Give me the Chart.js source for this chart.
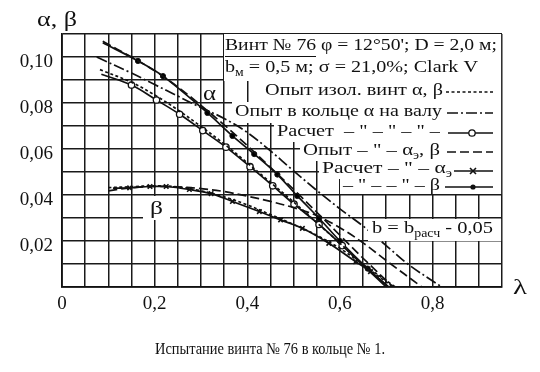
<!DOCTYPE html>
<html><head><meta charset="utf-8">
<script src="https://cdn.jsdelivr.net/npm/chart.js@4.4.1/dist/chart.umd.min.js"></script>
<style>html,body{margin:0;padding:0;background:#fff}#c{display:block}</style>
</head><body>
<canvas id="c" width="540" height="372"></canvas>
<script>
// ---- data (λ, value) ----
const aIsolX = [0.082,0.15,0.2,0.25,0.3,0.35,0.4,0.45,0.5,0.55,0.6,0.65,0.715];
const aIsolY = [0.0945,0.089,0.0835,0.077,0.0698,0.0622,0.054,0.0455,0.037,0.028,0.019,0.0098,0];
const aRingX = [0.075,0.15,0.2,0.25,0.3,0.35,0.4,0.45,0.5,0.55,0.6,0.65,0.7,0.75,0.82];
const aRingY = [0.100,0.093,0.088,0.083,0.078,0.0733,0.0672,0.0592,0.0505,0.042,0.034,0.0265,0.018,0.0095,0];
const aCalcX = [0.085,0.15,0.204,0.254,0.304,0.354,0.406,0.455,0.501,0.555,0.605,0.70];
const aCalcY = [0.0925,0.0878,0.0813,0.0751,0.0680,0.0608,0.0523,0.0440,0.0360,0.0272,0.0180,0];
const aExpEX = [0.088,0.15,0.2,0.25,0.3,0.35,0.4,0.45,0.5,0.55,0.6,0.65,0.715];
const aExpEY = [0.1068,0.100,0.094,0.087,0.079,0.0705,0.0615,0.052,0.0425,0.0325,0.0225,0.0125,0];
const calcDX = [0.088,0.164,0.218,0.314,0.368,0.415,0.465,0.508,0.555,0.600,0.660,0.705];
const calcDY = [0.1062,0.0983,0.0917,0.0757,0.0657,0.0578,0.0489,0.0396,0.0299,0.0200,0.0080,0];
const bIsolX = [0.1,0.15,0.2,0.25,0.3,0.35,0.4,0.45,0.5,0.55,0.6,0.65,0.72];
const bIsolY = [0.0432,0.0436,0.044,0.0435,0.0418,0.0392,0.0357,0.0315,0.0272,0.0225,0.0168,0.0098,0];
const bExpX = [0.1,0.15,0.2,0.25,0.3,0.35,0.4,0.45,0.5,0.55,0.6,0.65,0.7,0.777];
const bExpY = [0.0418,0.0432,0.0437,0.0435,0.0428,0.0415,0.0395,0.0372,0.0345,0.031,0.0258,0.0192,0.0115,0];
const bCalcEX = [0.11,0.146,0.19,0.225,0.275,0.322,0.368,0.426,0.472,0.519,0.576,0.634,0.666,0.705];
const bCalcEY = [0.043,0.0431,0.0437,0.0437,0.0424,0.0406,0.0372,0.0328,0.0292,0.0255,0.019,0.011,0.0067,0];

const xLabelValues = [0,0.2,0.4,0.6,0.8];
const xLabelTexts = ["0","0,2","0,4","0,6","0,8"];
const yLabelValues = [0.02,0.04,0.06,0.08,0.10];
const yLabelTexts = ["0,02","0,04","0,06","0,08","0,10"];

const legendRows = [
  'Опыт изол. винт α, β',
  'Опыт в кольце α на валу',
  'Расчет  – " – " – " –',
  'Опыт – " – α',
  'Расчет – " – α',
  '– " – – " – β'
];

function pts(xs, ys){ return xs.map((x,i)=>({x:x,y:ys[i]})); }
const inner = r => ctx => (ctx.dataIndex===0 || ctx.dataIndex===ctx.dataset.data.length-1) ? 0 : r;

const LW = 1.7;
const datasets = [
  {data:pts(aIsolX,aIsolY), borderDash:[3,2.5], pointRadius:0},
  {data:pts(bIsolX,bIsolY), borderDash:[3,2.5], pointRadius:0},
  {data:pts(aRingX,aRingY), borderDash:[11,3,2,3], pointRadius:0},
  {data:pts(aExpEX,aExpEY), borderDash:[9,4], pointRadius:0},
  {data:pts(bExpX,bExpY), borderDash:[9,4], pointRadius:0},
  {data:pts(aCalcX,aCalcY), pointRadius:inner(3.2), pointStyle:'circle', pointBackgroundColor:'#fff', pointBorderWidth:1.3},
  {data:pts(calcDX,calcDY), pointRadius:inner(2.6), pointStyle:'circle', pointBackgroundColor:'#000', pointBorderWidth:1},
  {data:pts(bCalcEX,bCalcEY), pointRadius:inner(3.2), pointStyle:'crossRot', pointBorderWidth:1.6}
].map(d=>Object.assign({showLine:true, borderColor:'#111', borderWidth:LW, tension:0.35, fill:false, pointBorderColor:'#111'}, d));

const SERIF = '"Liberation Serif", "Times New Roman", serif';

function drawRich(ctx, segs, x1, x2, yc, size){
  let total = 0;
  segs.forEach(s=>{ ctx.font = (s[1]? size*0.68 : size)+'px '+SERIF; total += ctx.measureText(s[0]).width; });
  const sx = (x2-x1)/total;
  ctx.save(); ctx.translate(x1,yc); ctx.scale(sx,1);
  ctx.textBaseline='middle'; ctx.textAlign='left'; ctx.fillStyle='#111';
  let cx = 0;
  segs.forEach(s=>{ ctx.font = (s[1]? size*0.68 : size)+'px '+SERIF; ctx.fillText(s[0], cx, s[1]? size*0.28 : 0); cx += ctx.measureText(s[0]).width; });
  ctx.restore();
}
function seg(ctx, x1,x2,y,dash){ ctx.save(); ctx.strokeStyle='#111'; ctx.lineWidth=LW; ctx.setLineDash(dash||[]); ctx.beginPath(); ctx.moveTo(x1,y); ctx.lineTo(x2,y); ctx.stroke(); ctx.restore(); }

const overlay = {
  id:'overlay',
  beforeDatasetsDraw(chart){
    const ctx = chart.ctx;
    ctx.save(); ctx.fillStyle='#fff';
    ctx.fillRect(143,196,27,24); // β label bg
    ctx.fillRect(203,86,15,16);  // α label bg
    ctx.restore();
  },
  afterDatasetsDraw(chart){
    const ctx = chart.ctx, R = chart.chartArea.right;
    ctx.save(); ctx.fillStyle='#fff';
    const bands = [[224,34,81],[262,81,102],[232,102,123],[274,123,142],[300,142,161],[319,161,179],[340,179,194],[368,219,241]];
    bands.forEach(b=>ctx.fillRect(b[0], b[1], R-b[0]-0.9, b[2]-b[1]));
    ctx.restore();
    const S = 17;
    drawRich(ctx, [['Винт № 76'],[' φ = 12°50\'; D = 2,0 м;']], 225, 497, 46, S);
    ctx.save(); ctx.strokeStyle='#111'; ctx.lineWidth=1; ctx.beginPath(); ctx.moveTo(225,56.5); ctx.lineTo(316,56.5); ctx.stroke(); ctx.restore();
    drawRich(ctx, [['b'],['м',1],[' = 0,5 м; σ = 21,0%; Clark V']], 225, 478, 68, S);
    drawRich(ctx, [[legendRows[0]]], 265, 443, 91, S);
    seg(ctx, 446, 493, 92, [3,2.5]);
    drawRich(ctx, [[legendRows[1]]], 235, 442, 112, S);
    seg(ctx, 447, 493, 113, [11,3,2,3]);
    drawRich(ctx, [[legendRows[2]]], 277, 440, 132, S);
    seg(ctx, 448, 493, 133);
    ctx.save(); ctx.fillStyle='#fff'; ctx.strokeStyle='#111'; ctx.lineWidth=1.3; ctx.beginPath(); ctx.arc(472,133,3.2,0,Math.PI*2); ctx.fill(); ctx.stroke(); ctx.restore();
    drawRich(ctx, [[legendRows[3]],['э',1],[', β']], 303, 440, 151, S);
    seg(ctx, 447, 493, 152, [9,4]);
    drawRich(ctx, [[legendRows[4]],['э',1]], 322, 452, 169, S);
    seg(ctx, 454, 493, 171);
    ctx.save(); ctx.strokeStyle='#111'; ctx.lineWidth=1.6; ctx.beginPath(); ctx.moveTo(470,168); ctx.lineTo(476,174); ctx.moveTo(476,168); ctx.lineTo(470,174); ctx.stroke(); ctx.restore();
    drawRich(ctx, [[legendRows[5]]], 343, 440, 186, S);
    seg(ctx, 445, 493, 187);
    ctx.save(); ctx.fillStyle='#111'; ctx.beginPath(); ctx.arc(473,187,2.6,0,Math.PI*2); ctx.fill(); ctx.restore();
    drawRich(ctx, [['b = b'],['расч',1],[' - 0,05']], 372, 493, 229, S);
    drawRich(ctx, [['α']], 203, 216, 95, 20);
    drawRich(ctx, [['β']], 150, 163, 209, 19);
  },
  afterDraw(chart){
    const ctx = chart.ctx;
    drawRich(ctx, [['α, β']], 37, 77, 21, 20);
    drawRich(ctx, [['λ']], 513, 527, 288, 21);
    drawRich(ctx, [['Испытание винта № 76 в кольце № 1.']], 155, 385, 350, 16.5);
  }
};

function findLabel(v, vals, texts){
  for (let i=0;i<vals.length;i++) if (Math.abs(vals[i]-v)<1e-6) return texts[i];
  return '';
}

new Chart(document.getElementById('c'), {
  type:'scatter',
  data:{datasets},
  options:{
    responsive:false, animation:false,
    layout:{padding:{top:34,right:38,left:0,bottom:0}},
    plugins:{legend:{display:false}, tooltip:{enabled:false}},
    scales:{
      x:{type:'linear', min:0, max:0.95,
        afterFit(s){ s.height = 85; },
        grid:{color:'#1a1a1a', lineWidth:1.5, drawTicks:false},
        border:{display:true, color:'#111', width:1.8},
        ticks:{stepSize:0.05, autoSkip:false, maxRotation:0, padding:6, color:'#111',
          font:{family:SERIF, size:19},
          callback:v=>findLabel(v, xLabelValues, xLabelTexts)}
      },
      y:{type:'linear', min:0, max:0.11,
        afterFit(s){ s.width = 62; },
        grid:{color:'#1a1a1a', lineWidth:1.5, drawTicks:false},
        border:{display:true, color:'#111', width:1.8},
        ticks:{stepSize:0.01, autoSkip:false, padding:9, labelOffset:5, color:'#111',
          font:{family:SERIF, size:19},
          callback:v=>findLabel(v, yLabelValues, yLabelTexts)}
      }
    }
  },
  plugins:[overlay]
});
</script>
</body></html>
